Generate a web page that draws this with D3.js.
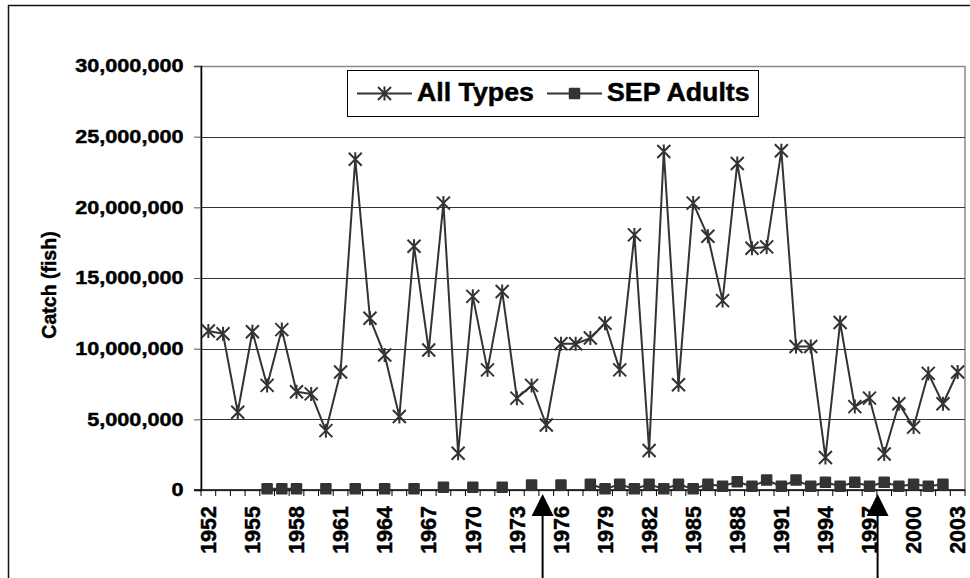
<!DOCTYPE html>
<html>
<head>
<meta charset="utf-8">
<script src="https://cdn.jsdelivr.net/npm/d3@7/dist/d3.min.js"></script>
<style>
  html, body { margin: 0; padding: 0; background: #fff; }
  svg { display: block; }
  text { font-family: "Liberation Sans", Arial, sans-serif; font-weight: bold; fill: #000;
         stroke: #000; stroke-width: 0.45px; }
</style>
</head>
<body>
<svg id="chart" width="970" height="578"></svg>
<script>
// Annual catch, 1952-2003
const years = d3.range(1952, 2004);

const allTypes = [
  11250000, 11050000, 5500000, 11200000, 7400000, 11350000, 6950000, 6800000,
  4200000, 8350000, 23400000, 12150000, 9550000, 5200000, 17250000, 9900000,
  20300000, 2600000, 13700000, 8500000, 14050000, 6500000, 7400000, 4600000,
  10350000, 10350000, 10750000, 11800000, 8500000, 18050000, 2800000, 23950000,
  7450000, 20300000, 17950000, 13400000, 23100000, 17100000, 17200000, 24000000,
  10150000, 10150000, 2300000, 11850000, 5900000, 6500000, 2550000, 6100000,
  4450000, 8250000, 6100000, 8350000
];

const sepAdults = [
  null, null, null, null, 80000, 80000, 80000, null,
  80000, null, 80000, null, 80000, null, 90000, null,
  200000, null, 190000, null, 190000, null, 350000, null,
  350000, null, 410000, 80000, 410000, 80000, 400000, 80000,
  400000, 80000, 400000, 260000, 580000, 260000, 700000, 260000,
  700000, 260000, 540000, 260000, 540000, 260000, 540000, 260000,
  400000, 260000, 400000, null
];

const seriesNames = ["All Types", "SEP Adults"];
const yTicks = [0, 5000000, 10000000, 15000000, 20000000, 25000000, 30000000];
const xLabelYears = d3.range(1952, 2004, 3);
const yAxisTitle = "Catch (fish)";
// years marked with arrows below the axis
const arrowYears = [1974.75, 1997.55];

const svg = d3.select("#chart");
const plot = { left: 201, right: 965, top: 66, bottom: 490 };
const ink = "#333";

const x = d3.scaleBand().domain(years).range([plot.left, plot.right]).padding(0);
const y = d3.scaleLinear().domain([0, 30000000]).range([plot.bottom, plot.top]);
const cx = yr => x(yr) + x.bandwidth() / 2;
const xAt = v => {
  const base = Math.floor(v);
  return cx(base) + (v - base) * x.bandwidth();
};

// outer chart frame
svg.append("line").attr("x1", 8.5).attr("x2", 8.5).attr("y1", 5).attr("y2", 578)
  .attr("stroke", "#111").attr("stroke-width", 1.5);
svg.append("line").attr("x1", 8).attr("x2", 970).attr("y1", 5.5).attr("y2", 5.5)
  .attr("stroke", "#111").attr("stroke-width", 1.5);

// plot area frame
svg.append("rect")
  .attr("x", plot.left).attr("y", plot.top + 0.5)
  .attr("width", plot.right - plot.left).attr("height", plot.bottom - plot.top)
  .attr("fill", "none").attr("stroke", "#8a8a8a").attr("stroke-width", 1.5);

// horizontal gridlines
svg.append("g").selectAll("line")
  .data(yTicks.filter(t => t > 0 && t < 30000000))
  .join("line")
  .attr("x1", plot.left).attr("x2", plot.right)
  .attr("y1", d => Math.round(y(d)) + 0.5).attr("y2", d => Math.round(y(d)) + 0.5)
  .attr("stroke", "#333").attr("stroke-width", 1.2);

// y axis
const yAxis = svg.append("g")
  .attr("transform", `translate(${plot.left},0)`)
  .call(d3.axisLeft(y).tickValues(yTicks).tickSize(7).tickPadding(10).tickFormat(d3.format(",")));
yAxis.select(".domain").attr("stroke", "#000").attr("stroke-width", 1.5);
yAxis.selectAll(".tick line").attr("stroke", "#555");
const ySx = 1.17;
yAxis.selectAll(".tick text")
  .attr("font-size", 18.5)
  .attr("font-family", null)
  .attr("fill", "#000")
  .attr("x", -17.5 / ySx)
  .attr("transform", `scale(${ySx},1)`);

// y axis title
svg.append("text")
  .attr("transform", "translate(49,285) rotate(-90)")
  .attr("text-anchor", "middle")
  .attr("dy", "0.36em")
  .attr("font-size", 19.5)
  .text(yAxisTitle);

// x axis line and tick marks at category boundaries
const xAxisG = svg.append("g");
xAxisG.append("line")
  .attr("x1", plot.left - 7).attr("x2", plot.right)
  .attr("y1", plot.bottom).attr("y2", plot.bottom)
  .attr("stroke", "#000").attr("stroke-width", 1.5);
xAxisG.selectAll("line.tk")
  .data(years.concat([null]))
  .join("line").attr("class", "tk")
  .attr("x1", d => d === null ? plot.right : x(d))
  .attr("x2", d => d === null ? plot.right : x(d))
  .attr("y1", plot.bottom).attr("y2", plot.bottom + 6)
  .attr("stroke", "#000").attr("stroke-width", 1);

// x tick labels (every third year), rotated
const xAxis = svg.append("g")
  .attr("transform", `translate(0,${plot.bottom})`)
  .call(d3.axisBottom(x).tickValues(xLabelYears).tickSize(0).tickFormat(d3.format("d")));
xAxis.select(".domain").remove();
xAxis.selectAll(".tick text")
  .attr("font-size", 21.5)
  .attr("font-family", null)
  .attr("fill", "#000")
  .attr("text-anchor", "end")
  .attr("transform", "rotate(-90)")
  .attr("x", -16)
  .attr("y", 0)
  .attr("dy", "0.36em");

// series lines
const lineAll = d3.line().x((d, i) => cx(years[i])).y(d => y(d));
svg.append("path")
  .attr("d", lineAll(allTypes))
  .attr("fill", "none").attr("stroke", ink).attr("stroke-width", 2).attr("stroke-linejoin", "round");

const lineSep = d3.line().defined(d => d !== null).x((d, i) => cx(years[i])).y(d => y(d));
svg.append("path")
  .attr("d", lineSep(sepAdults))
  .attr("fill", "none").attr("stroke", ink).attr("stroke-width", 2);

// star marker (X with a vertical bar)
function star(g, px, py) {
  const r = 6.5;
  g.append("path")
    .attr("d", `M${px - r},${py - r}L${px + r},${py + r}M${px - r},${py + r}L${px + r},${py - r}M${px},${py - r - 0.5}L${px},${py + r + 0.5}`)
    .attr("stroke", ink).attr("stroke-width", 2).attr("fill", "none");
}
function square(g, px, py) {
  const s = 11.5;
  g.append("rect")
    .attr("x", px - s / 2).attr("y", py - s / 2)
    .attr("width", s).attr("height", s).attr("rx", 1.2)
    .attr("fill", ink);
}

const starG = svg.append("g");
allTypes.forEach((v, i) => star(starG, cx(years[i]), y(v)));
const sqG = svg.append("g");
sepAdults.forEach((v, i) => { if (v !== null) square(sqG, cx(years[i]), y(v)); });

// legend
const lg = svg.append("g");
lg.append("rect").attr("x", 347.5).attr("y", 70.5).attr("width", 411).attr("height", 46)
  .attr("fill", "#fff").attr("stroke", "#000").attr("stroke-width", 1);
const legendItems = [
  { name: seriesNames[0], x0: 357, sym: star },
  { name: seriesNames[1], x0: 547, sym: square }
];
legendItems.forEach(it => {
  lg.append("line").attr("x1", it.x0).attr("x2", it.x0 + 55).attr("y1", 93.5).attr("y2", 93.5)
    .attr("stroke", ink).attr("stroke-width", 2);
  it.sym(lg, it.x0 + 27.5, 93.5);
  lg.append("text")
    .attr("transform", `translate(${it.x0 + 60},101) scale(1.07,1)`)
    .attr("font-size", 25)
    .text(it.name);
});

// arrows marking years below the axis
const arrG = svg.append("g");
arrowYears.forEach(v => {
  const ax = xAt(v);
  arrG.append("line").attr("x1", ax).attr("x2", ax).attr("y1", 578).attr("y2", 512)
    .attr("stroke", "#000").attr("stroke-width", 2);
  arrG.append("path")
    .attr("d", `M${ax - 11},516L${ax + 11},516L${ax},494Z`)
    .attr("fill", "#000");
});
</script>
</body>
</html>
